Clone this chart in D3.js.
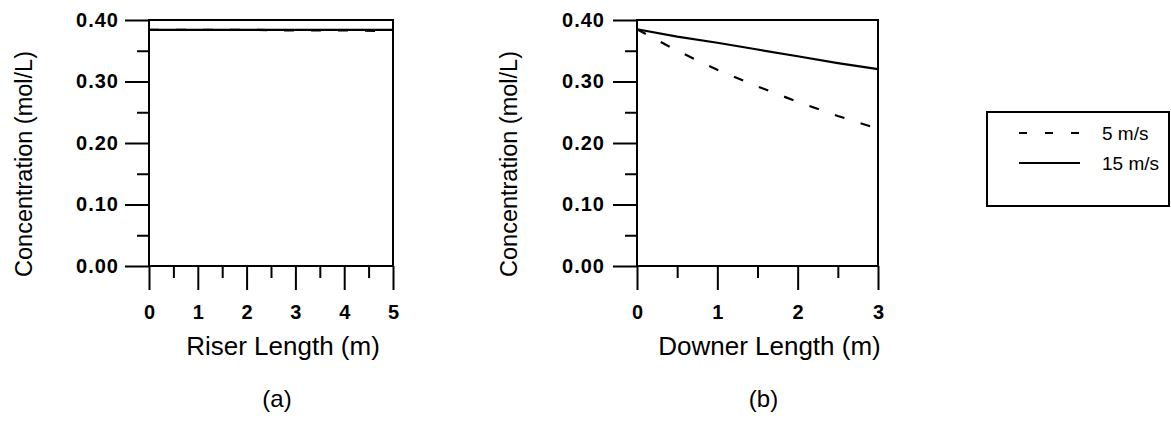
<!DOCTYPE html>
<html>
<head>
<meta charset="utf-8">
<script src="https://cdn.jsdelivr.net/npm/d3@7"></script>
<style>
  body { margin: 0; background: #fff; }
  svg { display: block; font-family: "Liberation Sans", Arial, sans-serif; }
  .domain { display: none; }
  .tick line { stroke: #000; stroke-width: 2; }
</style>
</head>
<body>
<div id="chart"></div>
<script>
const yTicks = [0, 0.1, 0.2, 0.3, 0.4];
const yMinor = [0.05, 0.15, 0.25, 0.35];

const riserX = [0, 1, 2, 3, 4, 5];
const riser5 = [0.384, 0.384, 0.384, 0.383, 0.383, 0.382];
const riser15 = [0.384, 0.384, 0.384, 0.384, 0.384, 0.384];

const downerX = [0, 0.5, 1, 1.5, 2, 2.5, 3];
const downer5 = [0.385, 0.350, 0.319, 0.292, 0.267, 0.244, 0.223];
const downer15 = [0.385, 0.373, 0.363, 0.352, 0.341, 0.330, 0.320];

const seriesNames = ['5 m/s', '15 m/s'];
const dash = '10,17';

const svg = d3.select('#chart').append('svg')
  .attr('width', 1171)
  .attr('height', 422);

const panel = (opt) => {
  const x = d3.scaleLinear([0, opt.xMax], [opt.left, opt.right]),
        y = d3.scaleLinear([0, 0.4], [266, 20]);

  const g = svg.append('g');

  // minor ticks
  g.append('g')
    .attr('transform', `translate(${opt.left},0)`)
    .call(d3.axisLeft(y).tickValues(yMinor).tickSize(12).tickFormat(''));
  g.append('g')
    .attr('transform', 'translate(0,266)')
    .call(d3.axisBottom(x).tickValues(d3.range(0.5, opt.xMax, 1)).tickSize(12).tickFormat(''));

  // major ticks
  g.append('g')
    .attr('transform', `translate(${opt.left},0)`)
    .call(d3.axisLeft(y).tickValues(yTicks).tickSize(24).tickPadding(opt.yPad).tickFormat(d3.format('.2f')))
    .selectAll('text')
      .style('font-size', '20px')
      .style('font-weight', 'bold')
      .style('letter-spacing', '1px')
      .attr('fill', '#000');
  g.append('g')
    .attr('transform', 'translate(0,266)')
    .call(d3.axisBottom(x).tickValues(d3.range(0, opt.xMax + 1)).tickSize(24).tickPadding(15).tickFormat(d3.format('d')))
    .selectAll('text')
      .style('font-size', '20px')
      .style('font-weight', 'bold')
      .attr('fill', '#000');

  // frame
  g.append('rect')
    .attr('x', opt.left)
    .attr('y', 20)
    .attr('width', opt.right - opt.left)
    .attr('height', 246)
    .attr('fill', 'none')
    .attr('stroke', '#000')
    .attr('stroke-width', 2);

  const line = d3.line()
    .x(d => x(d[0]))
    .y(d => y(d[1]));

  g.append('path')
    .datum(opt.xs.map((v, i) => [v, opt.s5[i]]))
    .attr('d', line)
    .attr('fill', 'none')
    .attr('stroke', '#000')
    .attr('stroke-width', 2.2)
    .attr('stroke-dasharray', dash);

  g.append('path')
    .datum(opt.xs.map((v, i) => [v, opt.s15[i]]))
    .attr('d', line)
    .attr('fill', 'none')
    .attr('stroke', '#000')
    .attr('stroke-width', 2.2);

  g.append('text')
    .attr('transform', `translate(${opt.yLabelX},164) rotate(-90)`)
    .attr('text-anchor', 'middle')
    .style('font-size', '23.5px')
    .text('Concentration (mol/L)');

  g.append('text')
    .attr('x', (opt.left + opt.right) / 2 + 12)
    .attr('y', 355)
    .attr('text-anchor', 'middle')
    .style('font-size', '26px')
    .text(opt.title);

  g.append('text')
    .attr('x', (opt.left + opt.right) / 2 + 6)
    .attr('y', 407)
    .attr('text-anchor', 'middle')
    .style('font-size', '24px')
    .text(opt.tag);
};

panel({left: 149, right: 393, xMax: 5, xs: riserX, s5: riser5, s15: riser15,
  yPad: 6, yLabelX: 32, title: 'Riser Length (m)', tag: '(a)'});
panel({left: 637, right: 878, xMax: 3, xs: downerX, s5: downer5, s15: downer15,
  yPad: 8, yLabelX: 517, title: 'Downer Length (m)', tag: '(b)'});

// legend
const legend = svg.append('g');
legend.append('rect')
  .attr('x', 987)
  .attr('y', 112)
  .attr('width', 182)
  .attr('height', 94)
  .attr('fill', 'none')
  .attr('stroke', '#000')
  .attr('stroke-width', 2);

seriesNames.forEach((name, i) => {
  const yy = 133 + i * 30;
  legend.append('line')
    .attr('x1', 1019).attr('x2', 1080)
    .attr('y1', yy).attr('y2', yy)
    .attr('stroke', '#000')
    .attr('stroke-width', 2)
    .attr('stroke-dasharray', i === 0 ? '8,18' : null);
  legend.append('text')
    .attr('x', 1102)
    .attr('y', yy + 7)
    .style('font-size', '19px')
    .text(name);
});
</script>
</body>
</html>
